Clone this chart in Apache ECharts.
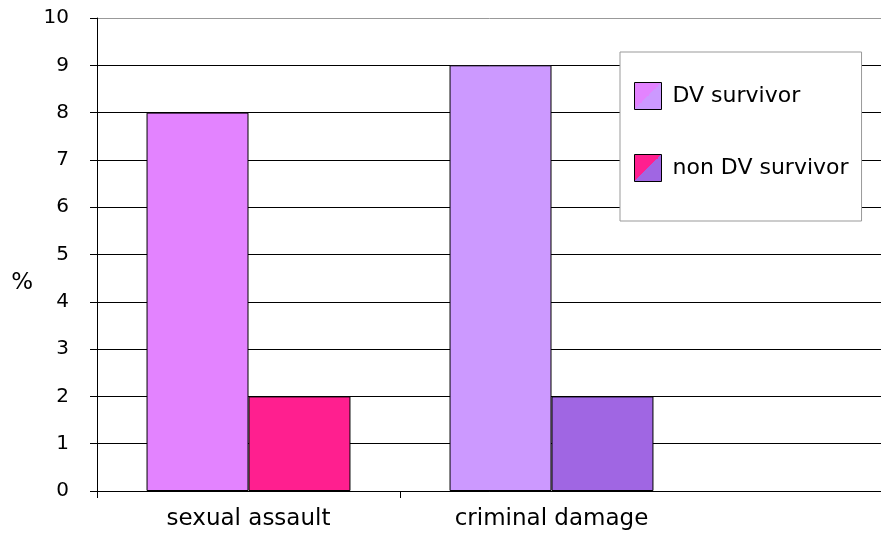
<!DOCTYPE html>
<html>
<head>
<meta charset="utf-8">
<script src="https://cdn.jsdelivr.net/npm/echarts@6/dist/echarts.min.js"></script>
<style>
  html, body { margin: 0; padding: 0; background: #fff; }
  #chart { width: 881px; height: 534px; }
</style>
</head>
<body>
<div id="chart"></div>
<script>
// data
const categories = ['sexual assault', 'criminal damage', ''];
const dvSurvivor = [8, 9];
const nonDvSurvivor = [2, 2];
const dvColors = ['#E383FF', '#CC99FF'];
const nonDvColors = ['#FF1F8F', '#A066E3'];
const yTicks = [0, 1, 2, 3, 4, 5, 6, 7, 8, 9, 10];

window.onload = function() {
    var myChart = echarts.init(document.getElementById('chart'));

    // two-colour swatch for the legend (split on the diagonal)
    function splitSwatch(c1, c2) {
        return {
            type: 'linear', x: 0, y: 0, x2: 1, y2: 1,
            colorStops: [
                { offset: 0, color: c1 },
                { offset: 0.5, color: c1 },
                { offset: 0.5, color: c2 },
                { offset: 1, color: c2 }
            ]
        };
    }

    var gridColors = yTicks.map(function(v, i) {
        return i === yTicks.length - 1 ? '#999999' : '#000000';
    });

    var font = 'DejaVu Sans';

    var option = {
        animation: false,
        backgroundColor: '#ffffff',
        grid: {
            left: 97,
            top: 18,
            width: 909,
            height: 473,
            outerBoundsMode: 'none'
        },
        legend: {
            orient: 'vertical',
            left: 620,
            top: 52,
            itemWidth: 27,
            itemHeight: 27,
            itemGap: 44,
            padding: [30, 13, 39, 14],
            backgroundColor: '#ffffff',
            borderColor: '#999999',
            borderWidth: 1,
            icon: 'rect',
            textStyle: {
                fontFamily: font,
                fontSize: 22,
                color: '#000',
                padding: [0, 0, 0, 6]
            },
            data: [{
                name: 'DV survivor',
                itemStyle: { color: splitSwatch(dvColors[0], dvColors[1]), borderColor: '#000', borderWidth: 1 }
            }, {
                name: 'non DV survivor',
                itemStyle: { color: splitSwatch(nonDvColors[0], nonDvColors[1]), borderColor: '#000', borderWidth: 1 }
            }]
        },
        xAxis: {
            type: 'category',
            data: categories,
            axisLine: { lineStyle: { color: '#000', width: 1 } },
            axisTick: {
                show: true,
                length: 7,
                interval: function(index) { return index <= 1; },
                lineStyle: { color: '#000' }
            },
            axisLabel: {
                interval: 0,
                margin: 17,
                fontFamily: font,
                fontSize: 23,
                color: '#000'
            }
        },
        yAxis: {
            type: 'value',
            min: 0,
            max: 10,
            interval: 1,
            name: '%',
            nameLocation: 'middle',
            nameRotate: 0,
            nameGap: 64,
            nameTextStyle: {
                fontFamily: font,
                fontSize: 23,
                color: '#000',
                verticalAlign: 'top',
                padding: [17, 0, 0, 0]
            },
            axisLine: { show: true, lineStyle: { color: '#000', width: 1 } },
            axisTick: { show: true, length: 7, lineStyle: { color: '#000' } },
            axisLabel: {
                margin: 28,
                fontFamily: font,
                fontSize: 20,
                color: '#000'
            },
            splitLine: {
                show: true,
                showMinLine: true,
                showMaxLine: true,
                lineStyle: { color: gridColors, width: 1 }
            }
        },
        series: [{
            name: 'DV survivor',
            type: 'bar',
            barGap: '0%',
            barCategoryGap: '32.7%',
            data: dvSurvivor.map(function(v, i) {
                return { value: v, itemStyle: { color: dvColors[i] } };
            }),
            itemStyle: { borderColor: '#000', borderWidth: 1 }
        }, {
            name: 'non DV survivor',
            type: 'bar',
            barGap: '0%',
            barCategoryGap: '32.7%',
            data: nonDvSurvivor.map(function(v, i) {
                return { value: v, itemStyle: { color: nonDvColors[i] } };
            }),
            itemStyle: { borderColor: '#000', borderWidth: 1 }
        }]
    };
    myChart.setOption(option);
};
</script>
</body>
</html>
